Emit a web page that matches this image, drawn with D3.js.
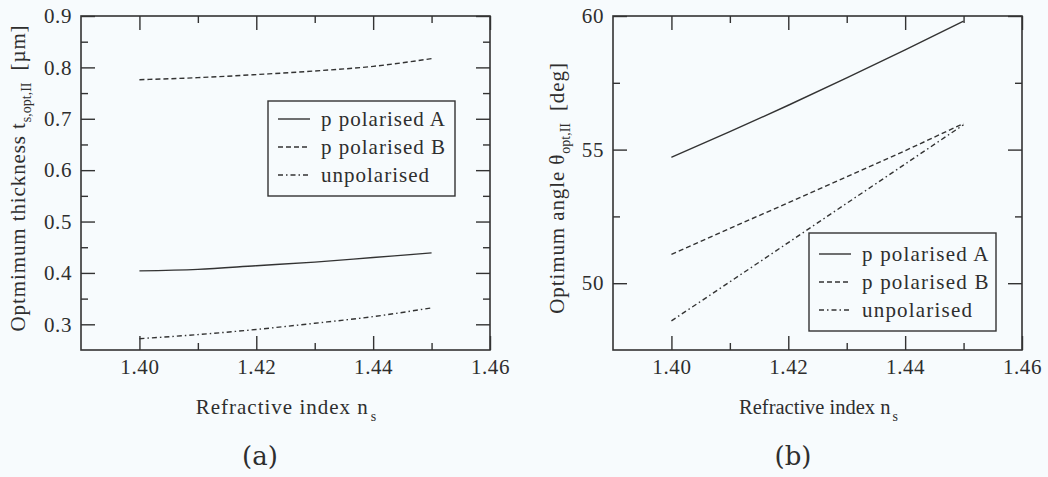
<!DOCTYPE html>
<html>
<head>
<meta charset="utf-8">
<script src="https://cdn.jsdelivr.net/npm/d3@7"></script>
<style>
  html, body { margin: 0; padding: 0; background: #f7fbfd; }
  svg { display: block; }
</style>
</head>
<body>
<svg id="fig" width="1048" height="477"></svg>
<script>
// Refractive index of the substrate (shared x values)
const refractiveIndex = [1.40, 1.41, 1.42, 1.43, 1.44, 1.45];

// (a) optimum thickness t_s,opt,II in µm
const thicknessPolA = [0.404, 0.407, 0.414, 0.421, 0.430, 0.439];
const thicknessPolB = [0.776, 0.780, 0.786, 0.793, 0.802, 0.817];
const thicknessUnpol = [0.272, 0.280, 0.290, 0.302, 0.315, 0.332];

// (b) optimum angle θ_opt,II in degrees
const anglePolA = [54.71, 55.67, 56.66, 57.68, 58.73, 59.81];
const anglePolB = [51.08, 52.05, 53.01, 53.98, 54.96, 55.98];
const angleUnpol = [48.59, 50.05, 51.52, 52.99, 54.46, 55.93];

// Axis ticks
const xMajorTicks = [1.40, 1.42, 1.44, 1.46];
const xMinorTicks = [1.41, 1.43, 1.45];
const thicknessMajorTicks = [0.3, 0.4, 0.5, 0.6, 0.7, 0.8, 0.9];
const thicknessMinorTicks = [0.35, 0.45, 0.55, 0.65, 0.75, 0.85];
const angleMajorTicks = [50, 55, 60];
const angleMinorTicks = [52.5, 57.5];

const seriesNames = ["p polarised A", "p polarised B", "unpolarised"];
const dashStyles = [null, "5,3", "5,3,1.5,3"];

const FONT = "'Liberation Serif', 'Times New Roman', serif";
const ink = "#333";
const textInk = "#2e2e2e";
const svg = d3.select("#fig");

function drawPanel(cfg) {
  const x = d3.scaleLinear().domain([1.39, 1.46]).range([cfg.left, cfg.right]);
  const y = d3.scaleLinear().domain(cfg.yDomain).range([cfg.bottom, cfg.top]);
  const g = svg.append("g").attr("font-family", FONT).attr("fill", textInk);
  const W = cfg.right - cfg.left, H = cfg.bottom - cfg.top;

  const styleAxis = sel => {
    sel.attr("font-family", FONT).attr("font-size", 21);
    sel.select(".domain").remove();
    sel.selectAll("line").attr("stroke", ink).attr("stroke-width", 1.4);
    sel.selectAll("text").attr("fill", textInk).attr("letter-spacing", 0.6);
  };

  // bottom axis (labelled) and top axis, ticks pointing inward
  g.append("g").attr("transform", `translate(0,${cfg.bottom})`)
    .call(d3.axisBottom(x).tickValues(xMajorTicks).tickSize(-14).tickPadding(9)
      .tickFormat(d3.format(".2f")))
    .call(styleAxis);
  g.append("g").attr("transform", `translate(0,${cfg.bottom})`)
    .call(d3.axisBottom(x).tickValues(xMinorTicks).tickSize(-7).tickFormat(""))
    .call(styleAxis);
  g.append("g").attr("transform", `translate(0,${cfg.top})`)
    .call(d3.axisTop(x).tickValues(xMajorTicks).tickSize(-14).tickFormat(""))
    .call(styleAxis);
  g.append("g").attr("transform", `translate(0,${cfg.top})`)
    .call(d3.axisTop(x).tickValues(xMinorTicks).tickSize(-7).tickFormat(""))
    .call(styleAxis);

  // left axis (labelled) and right axis
  g.append("g").attr("transform", `translate(${cfg.left},0)`)
    .call(d3.axisLeft(y).tickValues(cfg.yMajor).tickSize(-14).tickPadding(9)
      .tickFormat(cfg.yFormat))
    .call(styleAxis);
  g.append("g").attr("transform", `translate(${cfg.left},0)`)
    .call(d3.axisLeft(y).tickValues(cfg.yMinor).tickSize(-7).tickFormat(""))
    .call(styleAxis);
  g.append("g").attr("transform", `translate(${cfg.right},0)`)
    .call(d3.axisRight(y).tickValues(cfg.yMajor).tickSize(-14).tickFormat(""))
    .call(styleAxis);
  g.append("g").attr("transform", `translate(${cfg.right},0)`)
    .call(d3.axisRight(y).tickValues(cfg.yMinor).tickSize(-7).tickFormat(""))
    .call(styleAxis);

  // frame
  g.append("rect").attr("x", cfg.left).attr("y", cfg.top)
    .attr("width", W).attr("height", H)
    .attr("fill", "none").attr("stroke", ink).attr("stroke-width", 1.6);

  // curves
  const line = d3.line().x((d, i) => x(refractiveIndex[i])).y(d => y(d))
    .curve(d3.curveMonotoneX);
  cfg.series.forEach((vals, k) => {
    g.append("path").datum(vals).attr("d", line)
      .attr("fill", "none").attr("stroke", ink).attr("stroke-width", 1.4)
      .attr("stroke-dasharray", dashStyles[k]);
  });

  // legend
  const L = cfg.legend;
  g.append("rect").attr("x", L.x).attr("y", L.y).attr("width", L.w).attr("height", L.h)
    .attr("fill", "#f7fbfd").attr("stroke", ink).attr("stroke-width", 1.4);
  seriesNames.forEach((name, k) => {
    const cy = L.y + L.row0 + k * 28;
    g.append("line").attr("x1", L.x + 10).attr("x2", L.x + 42)
      .attr("y1", cy).attr("y2", cy)
      .attr("stroke", ink).attr("stroke-width", 1.4)
      .attr("stroke-dasharray", dashStyles[k]);
    g.append("text").attr("x", L.x + 53).attr("y", cy + 7)
      .attr("font-size", 21).attr("letter-spacing", L.spacing).text(name);
  });

  // x-axis title with subscript
  const xt = g.append("text").attr("x", (cfg.left + cfg.right) / 2 + 1).attr("y", 414)
    .attr("text-anchor", "middle").attr("font-size", cfg.xTitleSize)
    .attr("letter-spacing", cfg.xTitleSpacing);
  xt.append("tspan").text("Refractive index n");
  xt.append("tspan").attr("font-size", 14).attr("dy", 7).attr("dx", 2).text("s");

  // y-axis title with subscript
  const yt = g.append("text")
    .attr("transform", `translate(${cfg.yTitleX},${cfg.yTitleY}) rotate(-90)`)
    .attr("text-anchor", "middle").attr("font-size", 21).attr("letter-spacing", 0.9);
  yt.append("tspan").text(cfg.yTitle[0]);
  yt.append("tspan").attr("font-size", 14).attr("dy", 6).attr("letter-spacing", 0)
    .text(cfg.yTitle[1]);
  yt.append("tspan").attr("dy", -6).attr("dx", 12).text(cfg.yTitle[2]);

  // panel tag
  g.append("text").attr("x", cfg.tagX).attr("y", 465).attr("text-anchor", "middle")
    .attr("font-size", 26).attr("font-family", "'DejaVu Serif', serif")
    .text(cfg.tag);
}

drawPanel({
  left: 81, right: 490, top: 16, bottom: 350,
  yDomain: [0.25, 0.9], yMajor: thicknessMajorTicks, yMinor: thicknessMinorTicks,
  yFormat: d3.format(".1f"),
  series: [thicknessPolA, thicknessPolB, thicknessUnpol],
  legend: { x: 268, y: 101, w: 187, h: 95, row0: 18, spacing: 1.0 },
  xTitleSize: 21, xTitleSpacing: 1.0,
  yTitle: ["Optmimum thickness t", "s,opt,II", "[\u00b5m]"],
  yTitleX: 25, yTitleY: 178,
  tag: "(a)", tagX: 260
});

drawPanel({
  left: 613, right: 1022, top: 16, bottom: 350,
  yDomain: [47.5, 60], yMajor: angleMajorTicks, yMinor: angleMinorTicks,
  yFormat: d3.format("d"),
  series: [anglePolA, anglePolB, angleUnpol],
  legend: { x: 809, y: 233, w: 187, h: 98, row0: 21, spacing: 1.2 },
  xTitleSize: 20.5, xTitleSpacing: 0,
  yTitle: ["Optimum angle \u03b8", "opt,II", "[deg]"],
  yTitleX: 564, yTitleY: 188,
  tag: "(b)", tagX: 793
});
</script>
</body>
</html>
